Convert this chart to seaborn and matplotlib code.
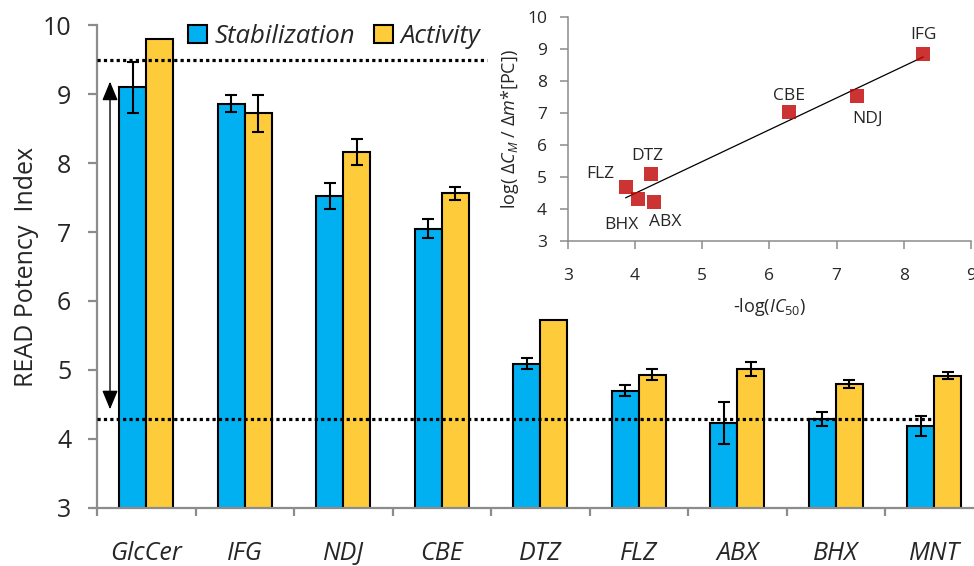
import numpy as np
import pandas as pd
import matplotlib
matplotlib.use("Agg")
import matplotlib.pyplot as plt
import seaborn as sns

# READ potency index per compound, two assays
compounds = ["GlcCer", "IFG", "NDJ", "CBE", "DTZ", "FLZ", "ABX", "BHX", "MNT"]
assays = ["Stabilization", "Activity"]
stabilization = [9.10, 8.86, 7.52, 7.05, 5.09, 4.70, 4.23, 4.29, 4.19]
stabilization_err = [0.37, 0.12, 0.19, 0.14, 0.08, 0.08, 0.30, 0.10, 0.14]
activity = [9.80, 8.72, 8.16, 7.56, 5.72, 4.93, 5.02, 4.80, 4.92]
activity_err = [np.nan, 0.27, 0.19, 0.095, np.nan, 0.08, 0.10, 0.06, 0.05]

upper_threshold = 9.5
lower_threshold = 4.29
range_arrow = (4.43, 9.18)

# Inset: correlation with -log(IC50)
inset_names = ["FLZ", "BHX", "DTZ", "ABX", "CBE", "NDJ", "IFG"]
inset_neg_log_ic50 = [3.86, 4.04, 4.24, 4.29, 6.29, 7.30, 8.29]
inset_log_ratio = [4.67, 4.30, 5.09, 4.21, 7.02, 7.53, 8.84]
label_offsets = {  # points
    "FLZ": (-18, 9.5), "BHX": (-12, -18.5), "DTZ": (-2.5, 13),
    "ABX": (8, -14), "CBE": (0, 12), "NDJ": (8, -16.5), "IFG": (0, 14),
}

BLUE = "#00B0F0"
GOLD = "#FECB3A"
RED = "#C00000"
GREY = "#8C8C8C"

sns.set_theme(style="ticks")
plt.rcParams["font.family"] = ["Open Sans", "DejaVu Sans"]
plt.rcParams["mathtext.fontset"] = "custom"
plt.rcParams["mathtext.rm"] = "Open Sans"
plt.rcParams["mathtext.it"] = "Open Sans:italic"

df = pd.DataFrame({
    "compound": compounds * 2,
    "assay": [assays[0]] * len(compounds) + [assays[1]] * len(compounds),
    "value": stabilization + activity,
})

fig = plt.figure(figsize=(9.74, 5.66), dpi=100)
ax = fig.add_axes([0.0996, 0.1025, 0.9102, 0.8533])

sns.barplot(data=df, x="compound", y="value", hue="assay", order=compounds,
            hue_order=assays, palette=[BLUE, GOLD], saturation=1, width=0.55,
            edgecolor="black", linewidth=1.5, errorbar=None, legend=False, ax=ax)

for container, errs in zip(ax.containers, [stabilization_err, activity_err]):
    xs = [b.get_x() + b.get_width() / 2 for b in container]
    ys = [b.get_height() for b in container]
    ax.errorbar(xs, ys, yerr=errs, fmt="none", ecolor="black", elinewidth=1.5,
                capsize=4.3, capthick=1.5, zorder=4)

ax.set_xlim(-0.5, 8.5)
ax.set_ylim(3, 10)
ax.set_yticks(range(3, 11))
ax.set_xticks(np.arange(-0.5, 9, 1), minor=True)
ax.set_xlabel("")
ax.set_ylabel("READ Potency  Index", fontsize=18, labelpad=3)
ax.tick_params(axis="x", which="major", length=0, pad=24, labelsize=18)
ax.tick_params(axis="x", which="minor", length=6, width=1.6, color=GREY)
ax.tick_params(axis="y", which="major", length=6.5, width=1.6, color=GREY,
               pad=12, labelsize=18)
for t in ax.get_xticklabels():
    t.set_fontstyle("italic")
for side in ["top", "right"]:
    ax.spines[side].set_visible(False)
for side in ["left", "bottom"]:
    ax.spines[side].set_color(GREY)
    ax.spines[side].set_linewidth(1.6)

# threshold lines
ax.hlines(upper_threshold, -0.5, 3.46, colors="black", lw=2.3,
          linestyles=(0, (1.0, 1.0)), zorder=5)
ax.hlines(lower_threshold, -0.5, 8.0, colors="black", lw=2.3,
          linestyles=(0, (1.0, 1.0)), zorder=5)

# dynamic range arrow
ax.annotate("", xy=(-0.368, range_arrow[1]), xytext=(-0.368, range_arrow[0]),
            arrowprops=dict(arrowstyle="<|-|>,head_length=0.58,head_width=0.24",
                            mutation_scale=20, color="black", lw=1,
                            shrinkA=0, shrinkB=0), zorder=5)

leg = ax.legend(ax.containers, assays, loc="upper left",
                bbox_to_anchor=(188 / 974, 1 - 24 / 566),
                bbox_transform=fig.transFigure, ncol=2, frameon=False,
                fontsize=18.5, handlelength=0.72, handleheight=0.72,
                handletextpad=0.3, columnspacing=0.75, borderpad=0,
                borderaxespad=0)
for t in leg.get_texts():
    t.set_fontstyle("italic")

# inset scatter with linear fit
ins = fig.add_axes([0.583, 0.5747, 0.4138, 0.3947])
ins.set_facecolor("none")
sns.regplot(x=inset_neg_log_ic50, y=inset_log_ratio, ax=ins, ci=None,
            marker="s",
            scatter_kws=dict(s=90, color=RED, linewidths=0, zorder=3),
            line_kws=dict(color="black", lw=0.9, zorder=2))
for name, x, y in zip(inset_names, inset_neg_log_ic50, inset_log_ratio):
    ins.annotate(name, (x, y), xytext=label_offsets[name],
                 textcoords="offset points", ha="center", va="center",
                 fontsize=12.5)
ins.set_xlim(3, 9)
ins.set_ylim(3, 10)
ins.set_xticks(range(3, 10))
ins.set_yticks(range(3, 11))
ins.set_xlabel(r"-log($\mathit{IC_{50}}$)", fontsize=13, labelpad=8)
ins.set_ylabel(r"log( $\mathit{\Delta C_M}$ / $\mathit{\Delta m}$*[PC])",
               fontsize=13, labelpad=4)
ins.tick_params(axis="x", length=6, width=1.1, color=GREY, pad=14,
                labelsize=12.5)
ins.tick_params(axis="y", length=6, width=1.1, color=GREY, pad=9,
                labelsize=12.5)
for side in ["top", "right"]:
    ins.spines[side].set_visible(False)
for side in ["left", "bottom"]:
    ins.spines[side].set_color(GREY)
    ins.spines[side].set_linewidth(1.1)

fig.savefig("out.png", dpi=100)
